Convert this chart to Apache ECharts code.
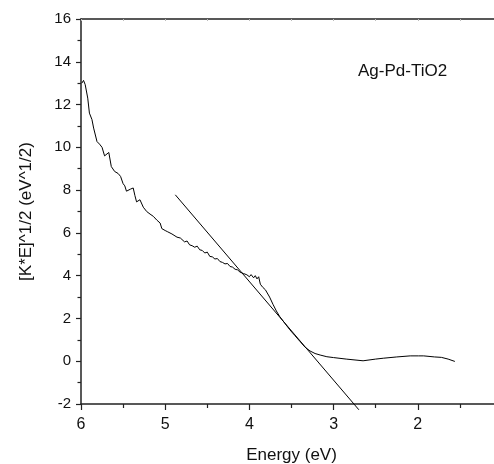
<!DOCTYPE html>
<html>
<head>
<meta charset="utf-8">
<script src="https://cdn.jsdelivr.net/npm/echarts@6/dist/echarts.min.js"></script>
<style>html,body{margin:0;padding:0;background:#fff;overflow:hidden}#c{width:502px;height:464px}</style>
</head>
<body>
<div id="c"></div>
<script>
const energy = [5.99,5.97,5.95,5.92,5.90,5.87,5.85,5.81,5.78,5.75,5.72,5.70,5.67,5.64,5.60,5.56,5.53,5.50,5.48,5.46,5.44,5.41,5.38,5.36,5.34,5.32,5.30,5.26,5.22,5.18,5.14,5.10,5.06,5.04,5.02,5.00,4.97,4.95,4.92,4.90,4.86,4.84,4.82,4.77,4.74,4.71,4.68,4.65,4.62,4.59,4.56,4.53,4.50,4.47,4.44,4.41,4.38,4.35,4.32,4.29,4.26,4.23,4.20,4.17,4.14,4.11,4.07,4.03,4.00,3.98,3.95,3.93,3.91,3.89,3.87,3.84,3.81,3.76,3.72,3.68,3.64,3.58,3.52,3.46,3.40,3.34,3.28,3.22,3.16,3.08,3.00,2.85,2.65,2.50,2.41,2.25,2.09,1.99,1.93,1.80,1.72,1.64,1.56];
const kubelka = [13.0,13.13,12.93,12.3,11.6,11.3,10.9,10.27,10.15,10.0,9.6,9.65,9.76,9.1,8.87,8.78,8.64,8.3,8.2,7.95,7.92,8.05,8.1,7.75,7.45,7.5,7.55,7.2,7.0,6.88,6.77,6.6,6.46,6.2,6.25,6.11,6.05,6.0,5.95,5.91,5.8,5.84,5.76,5.58,5.62,5.44,5.4,5.33,5.38,5.21,5.18,5.06,5.1,4.9,4.88,4.78,4.8,4.66,4.62,4.55,4.57,4.43,4.4,4.3,4.27,4.16,4.1,4.04,3.95,4.05,3.9,4.0,3.85,3.95,3.6,3.45,3.34,3.0,2.66,2.35,2.09,1.78,1.47,1.2,0.93,0.66,0.48,0.36,0.29,0.21,0.17,0.1,0.02,0.1,0.14,0.2,0.25,0.25,0.25,0.2,0.18,0.1,-0.01];
const fitEnergy = [4.88, 2.70];
const fitValue = [7.78, -2.27];
const xTicks = [6,5,4,3,2];
const yTicks = [-2,0,2,4,6,8,10,12,14,16];
const sampleLabel = 'Ag-Pd-TiO2';

const font = '"Liberation Sans", Arial, sans-serif';
const chart = echarts.init(document.getElementById('c'), null, {renderer:'canvas'});
chart.setOption({
  animation:false,
  backgroundColor:'#fff',
  grid:{left:81, right:0, top:19, bottom:60, containLabel:false, outerBoundsMode:'none'},
  xAxis:[{
    type:'value', min:1, max:6, interval:1, inverse:true, position:'bottom',
    name:'Energy (eV)', nameLocation:'middle', nameGap:43,
    nameTextStyle:{fontFamily:font, fontSize:17, color:'#111'},
    axisLine:{show:true, onZero:false, lineStyle:{color:'#222', width:1.5}},
    axisTick:{show:true, inside:false, length:6, lineStyle:{color:'#222', width:1.2}},
    minorTick:{show:true, splitNumber:2, length:4, lineStyle:{color:'#222', width:1.2}},
    axisLabel:{fontFamily:font, fontSize:16, color:'#111', margin:13,
      formatter:v=> xTicks.includes(v) ? String(v) : ''},
    splitLine:{show:false}
  },{
    type:'value', min:1, max:6, interval:1, inverse:true, position:'top',
    axisLine:{show:true, onZero:false, lineStyle:{color:'#222', width:1.5}},
    axisTick:{show:true, inside:true, length:2, lineStyle:{color:'#bbb', width:1}},
    minorTick:{show:true, splitNumber:2, length:2, lineStyle:{color:'#bbb', width:1}},
    axisLabel:{show:false}, splitLine:{show:false}
  }],
  yAxis:{
    type:'value', min:-2, max:16, interval:2,
    name:'[K*E]^1/2 (eV^1/2)', nameLocation:'middle', nameGap:46, nameRotate:90,
    nameTextStyle:{fontFamily:font, fontSize:17, color:'#111'},
    axisLine:{show:true, onZero:false, lineStyle:{color:'#222', width:1.5}},
    axisTick:{show:true, length:5, lineStyle:{color:'#222', width:1.2}},
    minorTick:{show:true, splitNumber:2, length:3.5, lineStyle:{color:'#222', width:1.2}},
    axisLabel:{fontFamily:font, fontSize:15, color:'#111', margin:10,
      formatter:v=> yTicks.includes(v) ? String(v) : ''},
    splitLine:{show:false}
  },
  series:[{
    type:'line', xAxisIndex:0, symbol:'none', smooth:false,
    data: energy.map((e,i)=>[e, kubelka[i]]),
    lineStyle:{color:'#000', width:1}
  },{
    type:'line', xAxisIndex:0, symbol:'none', clip:false,
    data: fitEnergy.map((e,i)=>[e, fitValue[i]]),
    lineStyle:{color:'#000', width:1}
  }],
  graphic:[{
    type:'text', left:358, top:63,
    style:{text:sampleLabel, fontFamily:font, fontSize:17, fill:'#111'}
  }]
});
</script>
</body>
</html>
